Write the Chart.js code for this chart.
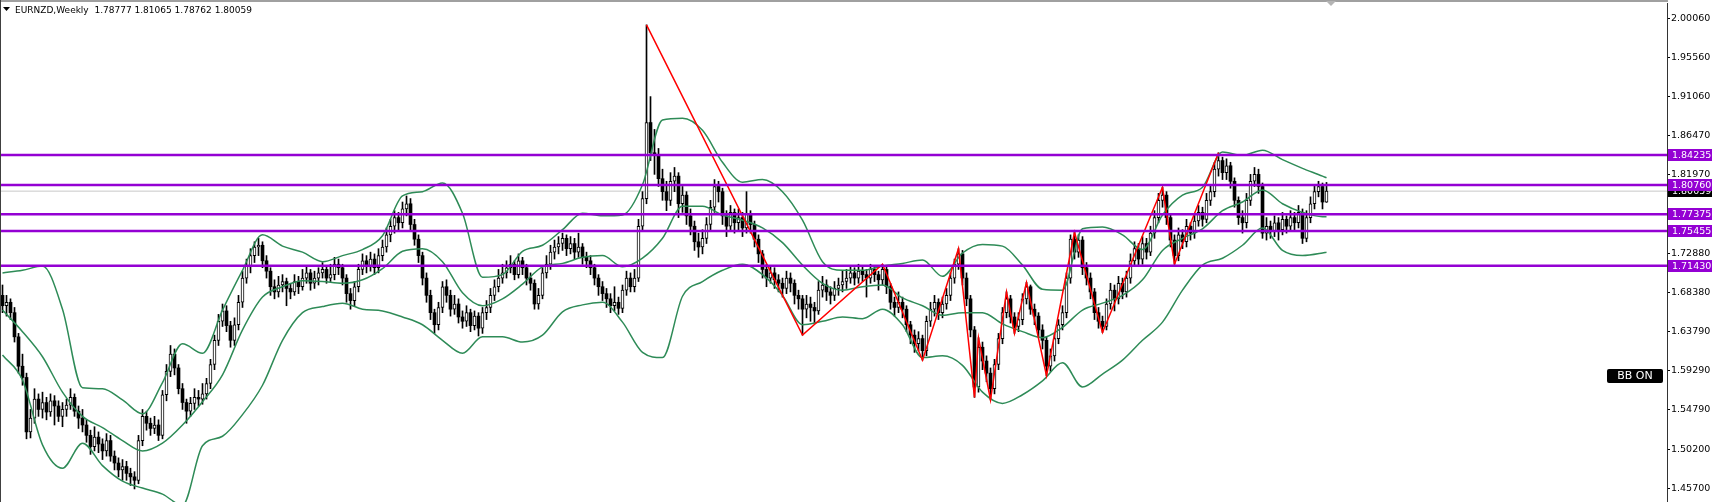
<!DOCTYPE html>
<html>
<head>
<meta charset="utf-8">
<script src="https://cdn.jsdelivr.net/npm/chart.js@4.4.1/dist/chart.umd.min.js"></script>
<style>
  html, body { margin: 0; padding: 0; background: #fff; overflow: hidden; }
  #wrap { position: relative; width: 1717px; height: 502px; }
</style>
</head>
<body>
<div id="wrap"><canvas id="chart" width="1717" height="502"></canvas></div>
<script>
// EURNZD weekly candles, oldest first
const opens = [
  1.680,1.668,1.672,1.660,1.632,1.598,1.585,1.522,1.538,1.560,
  1.548,1.556,1.545,1.558,1.552,1.540,1.548,1.553,1.562,1.546,
  1.538,1.530,1.518,1.505,1.516,1.508,1.500,1.512,1.494,1.486,
  1.478,1.482,1.474,1.470,1.466,1.512,1.540,1.532,1.526,1.530,
  1.518,1.565,1.592,1.612,1.596,1.572,1.556,1.546,1.555,1.562,
  1.560,1.566,1.578,1.600,1.628,1.650,1.662,1.645,1.628,1.646,
  1.672,1.700,1.714,1.726,1.736,1.738,1.720,1.708,1.690,1.684,
  1.692,1.696,1.688,1.684,1.696,1.690,1.700,1.706,1.694,1.700,
  1.706,1.710,1.700,1.704,1.716,1.712,1.700,1.682,1.674,1.690,
  1.710,1.720,1.714,1.722,1.712,1.726,1.736,1.750,1.760,1.770,
  1.764,1.780,1.786,1.762,1.745,1.726,1.700,1.680,1.660,1.646,
  1.666,1.690,1.680,1.664,1.670,1.655,1.650,1.660,1.645,1.656,
  1.642,1.660,1.666,1.680,1.690,1.700,1.706,1.712,1.716,1.704,
  1.720,1.712,1.700,1.694,1.670,1.680,1.706,1.716,1.730,1.736,
  1.740,1.746,1.734,1.740,1.730,1.736,1.724,1.720,1.712,1.700,
  1.690,1.682,1.676,1.668,1.672,1.665,1.686,1.700,1.690,1.700,
  1.760,1.792,1.880,1.845,1.842,1.815,1.800,1.790,1.812,1.818,
  1.786,1.796,1.772,1.760,1.742,1.736,1.746,1.762,1.782,1.806,
  1.800,1.772,1.760,1.776,1.764,1.770,1.758,1.774,1.762,1.745,
  1.728,1.710,1.700,1.706,1.698,1.694,1.688,1.700,1.694,1.680,
  1.676,1.664,1.670,1.666,1.662,1.686,1.692,1.684,1.680,1.688,
  1.692,1.696,1.700,1.706,1.700,1.708,1.704,1.700,1.710,1.704,
  1.698,1.710,1.690,1.672,1.666,1.672,1.664,1.646,1.634,1.624,
  1.630,1.616,1.650,1.664,1.672,1.660,1.670,1.680,1.700,1.716,
  1.728,1.700,1.676,1.640,1.574,1.620,1.604,1.590,1.572,1.600,
  1.630,1.660,1.676,1.655,1.644,1.652,1.676,1.690,1.664,1.656,
  1.640,1.628,1.598,1.610,1.630,1.646,1.660,1.700,1.745,1.730,
  1.744,1.712,1.700,1.684,1.660,1.650,1.644,1.670,1.686,1.676,
  1.694,1.684,1.700,1.720,1.734,1.722,1.740,1.730,1.752,1.770,
  1.790,1.796,1.770,1.744,1.726,1.750,1.742,1.760,1.752,1.766,
  1.776,1.768,1.790,1.800,1.826,1.836,1.822,1.830,1.812,1.790,
  1.770,1.764,1.790,1.812,1.820,1.806,1.752,1.760,1.755,1.764,
  1.756,1.768,1.760,1.770,1.764,1.776,1.746,1.770,1.786,1.800,
  1.806,1.78777
];
const highs = [
  1.692,1.680,1.676,1.666,1.636,1.612,1.590,1.548,1.572,1.566,
  1.568,1.562,1.566,1.564,1.558,1.556,1.560,1.572,1.566,1.552,
  1.548,1.536,1.524,1.528,1.522,1.514,1.520,1.518,1.500,1.492,
  1.490,1.488,1.480,1.476,1.518,1.548,1.546,1.538,1.540,1.536,
  1.570,1.600,1.622,1.618,1.600,1.578,1.560,1.562,1.572,1.570,
  1.578,1.584,1.606,1.634,1.658,1.670,1.668,1.650,1.654,1.680,
  1.708,1.722,1.734,1.742,1.746,1.742,1.726,1.712,1.698,1.702,
  1.704,1.700,1.694,1.704,1.702,1.710,1.714,1.710,1.708,1.712,
  1.718,1.714,1.716,1.724,1.722,1.716,1.704,1.688,1.696,1.716,
  1.728,1.726,1.730,1.728,1.734,1.744,1.758,1.768,1.778,1.776,
  1.788,1.795,1.792,1.768,1.750,1.730,1.706,1.686,1.664,1.672,
  1.696,1.698,1.686,1.680,1.676,1.662,1.668,1.664,1.662,1.660,
  1.666,1.674,1.688,1.698,1.710,1.716,1.720,1.726,1.720,1.728,
  1.724,1.716,1.706,1.698,1.688,1.712,1.726,1.738,1.744,1.748,
  1.752,1.750,1.748,1.746,1.752,1.740,1.730,1.726,1.716,1.704,
  1.696,1.688,1.682,1.690,1.678,1.692,1.708,1.706,1.710,1.768,
  1.800,1.993,1.910,1.872,1.850,1.826,1.812,1.822,1.828,1.822,
  1.806,1.800,1.780,1.766,1.752,1.756,1.770,1.790,1.814,1.812,
  1.804,1.778,1.784,1.780,1.780,1.776,1.800,1.778,1.766,1.750,
  1.732,1.716,1.714,1.712,1.704,1.700,1.708,1.706,1.698,1.686,
  1.680,1.680,1.678,1.672,1.696,1.702,1.698,1.690,1.696,1.700,
  1.708,1.710,1.714,1.712,1.716,1.714,1.710,1.716,1.714,1.708,
  1.716,1.714,1.694,1.678,1.684,1.678,1.668,1.650,1.640,1.638,
  1.634,1.656,1.672,1.680,1.676,1.678,1.688,1.706,1.722,1.734,
  1.732,1.706,1.680,1.644,1.631,1.626,1.610,1.596,1.606,1.636,
  1.666,1.684,1.680,1.660,1.660,1.682,1.695,1.692,1.670,1.660,
  1.646,1.632,1.618,1.636,1.652,1.668,1.706,1.750,1.753,1.750,
  1.748,1.718,1.706,1.688,1.666,1.656,1.676,1.694,1.692,1.702,
  1.700,1.708,1.728,1.742,1.740,1.748,1.746,1.760,1.778,1.798,
  1.805,1.800,1.774,1.750,1.758,1.756,1.768,1.764,1.774,1.784,
  1.782,1.798,1.808,1.834,1.845,1.840,1.838,1.834,1.816,1.794,
  1.778,1.798,1.820,1.828,1.826,1.810,1.770,1.766,1.772,1.770,
  1.776,1.772,1.778,1.776,1.784,1.780,1.778,1.794,1.808,1.812,
  1.810,1.81065
];
const lows = [
  1.660,1.656,1.652,1.626,1.590,1.576,1.514,1.515,1.532,1.540,
  1.538,1.536,1.540,1.530,1.534,1.528,1.540,1.548,1.540,1.526,
  1.522,1.510,1.496,1.500,1.498,1.490,1.494,1.488,1.478,1.470,
  1.466,1.466,1.460,1.456,1.462,1.506,1.524,1.518,1.520,1.512,
  1.514,1.558,1.586,1.588,1.566,1.548,1.532,1.540,1.548,1.552,
  1.554,1.560,1.572,1.594,1.622,1.644,1.638,1.620,1.622,1.640,
  1.666,1.694,1.706,1.718,1.726,1.712,1.700,1.680,1.676,1.678,
  1.684,1.668,1.676,1.680,1.682,1.686,1.694,1.686,1.688,1.692,
  1.700,1.694,1.696,1.698,1.704,1.692,1.672,1.664,1.668,1.684,
  1.704,1.706,1.708,1.704,1.706,1.720,1.730,1.742,1.752,1.756,
  1.758,1.772,1.756,1.738,1.718,1.692,1.672,1.652,1.636,1.640,
  1.660,1.672,1.656,1.658,1.648,1.642,1.644,1.638,1.640,1.633,
  1.636,1.652,1.660,1.674,1.684,1.694,1.700,1.706,1.698,1.700,
  1.704,1.692,1.686,1.664,1.664,1.676,1.700,1.710,1.722,1.728,
  1.732,1.726,1.728,1.722,1.724,1.716,1.712,1.704,1.692,1.680,
  1.674,1.666,1.660,1.662,1.658,1.660,1.680,1.684,1.684,1.696,
  1.754,1.786,1.836,1.820,1.806,1.790,1.778,1.784,1.800,1.770,
  1.776,1.762,1.750,1.732,1.724,1.728,1.740,1.756,1.776,1.788,
  1.762,1.748,1.754,1.752,1.756,1.748,1.752,1.752,1.736,1.718,
  1.700,1.690,1.694,1.688,1.684,1.678,1.682,1.684,1.670,1.664,
  1.634,1.654,1.650,1.648,1.658,1.678,1.674,1.670,1.674,1.680,
  1.684,1.688,1.694,1.692,1.694,1.696,1.678,1.694,1.696,1.686,
  1.692,1.682,1.664,1.656,1.660,1.654,1.638,1.624,1.614,1.616,
  1.605,1.610,1.644,1.656,1.652,1.654,1.664,1.674,1.694,1.710,
  1.692,1.668,1.632,1.562,1.568,1.594,1.580,1.559,1.566,1.594,
  1.624,1.654,1.648,1.636,1.638,1.646,1.670,1.658,1.646,1.632,
  1.618,1.587,1.592,1.604,1.624,1.640,1.654,1.694,1.722,1.724,
  1.704,1.692,1.676,1.652,1.642,1.637,1.640,1.664,1.662,1.670,
  1.676,1.678,1.694,1.714,1.714,1.716,1.722,1.726,1.746,1.764,
  1.782,1.762,1.736,1.716,1.720,1.734,1.736,1.744,1.746,1.760,
  1.760,1.764,1.784,1.794,1.818,1.814,1.814,1.804,1.782,1.762,
  1.752,1.758,1.784,1.806,1.798,1.746,1.744,1.746,1.748,1.744,
  1.750,1.752,1.754,1.756,1.758,1.740,1.742,1.764,1.780,1.794,
  1.780,1.78762
];
const closes = [
  1.668,1.672,1.660,1.632,1.598,1.585,1.522,1.538,1.560,1.548,
  1.556,1.545,1.558,1.552,1.540,1.548,1.553,1.562,1.546,1.538,
  1.530,1.518,1.505,1.516,1.508,1.500,1.512,1.494,1.486,1.478,
  1.482,1.474,1.470,1.466,1.512,1.540,1.532,1.526,1.530,1.518,
  1.565,1.592,1.612,1.596,1.572,1.556,1.546,1.555,1.562,1.560,
  1.566,1.578,1.600,1.628,1.650,1.662,1.645,1.628,1.646,1.672,
  1.700,1.714,1.726,1.736,1.738,1.720,1.708,1.690,1.684,1.692,
  1.696,1.688,1.684,1.696,1.690,1.700,1.706,1.694,1.700,1.706,
  1.710,1.700,1.704,1.716,1.712,1.700,1.682,1.674,1.690,1.710,
  1.720,1.714,1.722,1.712,1.726,1.736,1.750,1.760,1.770,1.764,
  1.780,1.786,1.762,1.745,1.726,1.700,1.680,1.660,1.646,1.666,
  1.690,1.680,1.664,1.670,1.655,1.650,1.660,1.645,1.656,1.642,
  1.660,1.666,1.680,1.690,1.700,1.706,1.712,1.716,1.704,1.720,
  1.712,1.700,1.694,1.670,1.680,1.706,1.716,1.730,1.736,1.740,
  1.746,1.734,1.740,1.730,1.736,1.724,1.720,1.712,1.700,1.690,
  1.682,1.676,1.668,1.672,1.665,1.686,1.700,1.690,1.700,1.760,
  1.792,1.880,1.845,1.842,1.815,1.800,1.790,1.812,1.818,1.786,
  1.796,1.772,1.760,1.742,1.736,1.746,1.762,1.782,1.806,1.800,
  1.772,1.760,1.776,1.764,1.770,1.758,1.774,1.762,1.745,1.728,
  1.710,1.700,1.706,1.698,1.694,1.688,1.700,1.694,1.680,1.676,
  1.664,1.670,1.666,1.662,1.686,1.692,1.684,1.680,1.688,1.692,
  1.696,1.700,1.706,1.700,1.708,1.704,1.700,1.710,1.704,1.698,
  1.710,1.690,1.672,1.666,1.672,1.664,1.646,1.634,1.624,1.630,
  1.616,1.650,1.664,1.672,1.660,1.670,1.680,1.700,1.716,1.728,
  1.700,1.676,1.640,1.574,1.620,1.604,1.590,1.572,1.600,1.630,
  1.660,1.676,1.655,1.644,1.652,1.676,1.690,1.664,1.656,1.640,
  1.628,1.598,1.610,1.630,1.646,1.660,1.700,1.745,1.730,1.744,
  1.712,1.700,1.684,1.660,1.650,1.644,1.670,1.686,1.676,1.694,
  1.684,1.700,1.720,1.734,1.722,1.740,1.730,1.752,1.770,1.790,
  1.796,1.770,1.744,1.726,1.750,1.742,1.760,1.752,1.766,1.776,
  1.768,1.790,1.800,1.826,1.836,1.822,1.830,1.812,1.790,1.770,
  1.764,1.790,1.812,1.820,1.806,1.752,1.760,1.755,1.764,1.756,
  1.768,1.760,1.770,1.764,1.776,1.746,1.770,1.786,1.800,1.806,
  1.788,1.80059
];

const bbIdx = [
  0,5,10,15,20,25,30,35,40,45,50,55,60,65,70,75,80,85,90,95,
  100,105,110,115,120,125,130,135,140,145,150,155,160,165,170,175,180,185,190,195,
  200,205,210,215,220,225,230,235,240,245,250,255,260,265,270,275,280,285,290,295,
  300,305,310,315,320,325,330,331
];
const bbUpper = [
  1.706,1.709,1.714,1.664,1.573,1.572,1.559,1.543,1.579,1.624,
  1.613,1.663,1.709,1.750,1.737,1.730,1.719,1.726,1.733,1.749,
  1.795,1.800,1.810,1.775,1.701,1.704,1.731,1.738,1.756,1.775,
  1.772,1.773,1.808,1.883,1.885,1.871,1.834,1.811,1.814,1.800,
  1.767,1.719,1.709,1.709,1.714,1.717,1.721,1.702,1.729,1.739,
  1.737,1.715,1.687,1.686,1.757,1.759,1.750,1.733,1.773,1.796,
  1.805,1.846,1.842,1.848,1.837,1.827,1.818,1.816
];
const bbMiddle = [
  1.663,1.638,1.609,1.568,1.540,1.527,1.512,1.500,1.509,1.530,
  1.557,1.588,1.640,1.678,1.690,1.697,1.696,1.694,1.698,1.711,
  1.731,1.734,1.719,1.683,1.668,1.676,1.693,1.713,1.717,1.724,
  1.726,1.713,1.723,1.746,1.783,1.783,1.773,1.767,1.758,1.741,
  1.715,1.694,1.686,1.690,1.692,1.677,1.668,1.657,1.660,1.660,
  1.647,1.638,1.631,1.643,1.663,1.671,1.680,1.698,1.732,1.746,
  1.757,1.778,1.788,1.802,1.786,1.776,1.771,1.771
];
const bbLower = [
  1.611,1.582,1.507,1.480,1.509,1.483,1.465,1.457,1.450,1.437,
  1.506,1.517,1.542,1.576,1.628,1.660,1.667,1.671,1.664,1.662,
  1.655,1.646,1.628,1.613,1.632,1.632,1.626,1.634,1.661,1.669,
  1.672,1.649,1.614,1.608,1.679,1.696,1.709,1.716,1.704,1.680,
  1.646,1.650,1.655,1.653,1.664,1.646,1.608,1.610,1.599,1.568,
  1.555,1.565,1.581,1.602,1.574,1.589,1.605,1.628,1.649,1.686,
  1.715,1.723,1.738,1.758,1.732,1.726,1.729,1.730
];

// zigzag pivots (bar index, price)
const zigIdx   = [161, 200, 220, 230, 239, 243, 244, 247, 251, 253, 256, 261, 268, 275, 290, 293, 304];
const zigPrice = [1.993, 1.634, 1.716, 1.605, 1.734, 1.562, 1.631, 1.559, 1.684, 1.636, 1.695, 1.587, 1.753, 1.637, 1.805, 1.716, 1.845];

// horizontal levels and price scale
const levels = [1.84235, 1.80760, 1.77375, 1.75455, 1.71430];
const priceTicks = [2.00060, 1.95560, 1.91060, 1.86470, 1.81970, 1.72880, 1.68380, 1.63790, 1.59290, 1.54790, 1.50200, 1.45700];

const FONT = "'DejaVu Sans', 'Liberation Sans', sans-serif";
const X_MIN = -0.375, X_MAX = 416.125;
const last = closes.length - 1;

const barIdx = closes.map(function (c, i) { return i; });
const isUp = barIdx.map(function (i) { return closes[i] >= opens[i]; });

function hline(value, color, width, order) {
    return {
        type: "line",
        data: [{ x: X_MIN, y: value }, { x: X_MAX, y: value }],
        borderColor: color,
        borderWidth: width,
        pointRadius: 0,
        order: order
    };
}

function band(values) {
    return {
        type: "line",
        data: bbIdx.map(function (x, k) { return { x: x, y: values[k] }; }),
        borderColor: "#2e8b57",
        borderWidth: 1.5,
        pointRadius: 0,
        cubicInterpolationMode: "monotone",
        order: 3
    };
}

const datasets = [
    // bid line
    hline(closes[last], "#c8c8c8", 1, 9),
    // wicks
    {
        type: "bar",
        data: barIdx.map(function (i) { return { x: i, y: [lows[i], highs[i]] }; }),
        backgroundColor: "#000",
        barThickness: 1,
        grouped: false,
        order: 6
    },
    // bodies
    {
        type: "bar",
        data: barIdx.map(function (i) { return { x: i, y: [opens[i], closes[i]] }; }),
        backgroundColor: isUp.map(function (u) { return u ? "#ffffff" : "#000000"; }),
        borderColor: "#000",
        borderWidth: isUp.map(function (u) { return u ? 1 : 0; }),
        borderSkipped: false,
        barThickness: 3,
        minBarLength: 1,
        grouped: false,
        order: 5
    },
    band(bbUpper),
    band(bbMiddle),
    band(bbLower),
    // zigzag
    {
        type: "line",
        data: zigIdx.map(function (x, k) { return { x: x, y: zigPrice[k] }; }),
        borderColor: "#ff0000",
        borderWidth: 1.5,
        pointRadius: 0,
        tension: 0,
        order: 2
    }
];
levels.forEach(function (lv) { datasets.push(hline(lv, "#9400d3", 2.5, 1)); });

// labels, frame and captions drawn on top
const overlay = {
    id: "overlay",
    afterDraw: function (chart) {
        const ctx = chart.ctx;
        const area = chart.chartArea;
        const ys = chart.scales.y;
        ctx.save();

        // frame
        ctx.fillStyle = "#a0a0a0";
        ctx.fillRect(0, 0, area.right + 1, 2);
        ctx.fillStyle = "#404040";
        ctx.fillRect(0, 0, 1, chart.height);

        // chart shift marker
        ctx.fillStyle = "#b4b4b4";
        ctx.beginPath();
        ctx.moveTo(1326, 1); ctx.lineTo(1336, 1); ctx.lineTo(1331, 6); ctx.closePath();
        ctx.fill();

        // price tags
        ctx.font = "9.5px " + FONT;
        ctx.textBaseline = "middle";
        ctx.textAlign = "left";
        function tag(value, bg) {
            const py = Math.round(ys.getPixelForValue(value));
            ctx.fillStyle = bg;
            ctx.fillRect(area.right + 1, py - 6, 44, 12);
            ctx.fillStyle = "#fff";
            ctx.fillText(value.toFixed(5), area.right + 5, py + 0.5);
        }
        tag(closes[last], "#000");
        levels.forEach(function (lv) { tag(lv, "#9400d3"); });

        // title
        ctx.fillStyle = "#000";
        ctx.beginPath();
        ctx.moveTo(3, 7); ctx.lineTo(10, 7); ctx.lineTo(6.5, 11); ctx.closePath();
        ctx.fill();
        ctx.font = "9px " + FONT;
        ctx.textBaseline = "alphabetic";
        const title = "EURNZD,Weekly  " + opens[last].toFixed(5) + " " + highs[last].toFixed(5) + " " +
            lows[last].toFixed(5) + " " + closes[last].toFixed(5);
        ctx.fillText(title, 15, 13);

        // BB ON badge
        ctx.fillStyle = "#000";
        ctx.beginPath();
        ctx.roundRect(1607, 369, 56, 14, 2);
        ctx.fill();
        ctx.fillStyle = "#fff";
        ctx.font = "11px " + FONT;
        ctx.textAlign = "center";
        ctx.textBaseline = "middle";
        ctx.fillText("BB ON", 1635, 376.5);

        ctx.restore();
    }
};

new Chart(document.getElementById("chart").getContext("2d"), {
    type: "bar",
    data: { datasets: datasets },
    options: {
        responsive: false,
        animation: false,
        layout: { padding: { top: 3, left: 1, right: 0, bottom: 0 } },
        plugins: { legend: { display: false }, tooltip: { enabled: false } },
        scales: {
            x: { type: "linear", display: false, min: X_MIN, max: X_MAX, offset: false },
            y: {
                position: "right",
                min: 1.4409,
                max: 2.0183,
                afterBuildTicks: function (scale) {
                    scale.ticks = priceTicks.map(function (v) { return { value: v }; });
                },
                afterFit: function (scale) {
                    scale.width = 50;
                    scale.paddingTop = 0;
                    scale.paddingBottom = 0;
                },
                ticks: {
                    autoSkip: false,
                    color: "#000",
                    padding: 1,
                    font: { family: FONT, size: 9.5 },
                    callback: function (v) { return Number(v).toFixed(5); }
                },
                grid: { drawOnChartArea: false, tickLength: 3, color: "#000" },
                border: { color: "#333" }
            }
        }
    },
    plugins: [overlay]
});
</script>
</body>
</html>
